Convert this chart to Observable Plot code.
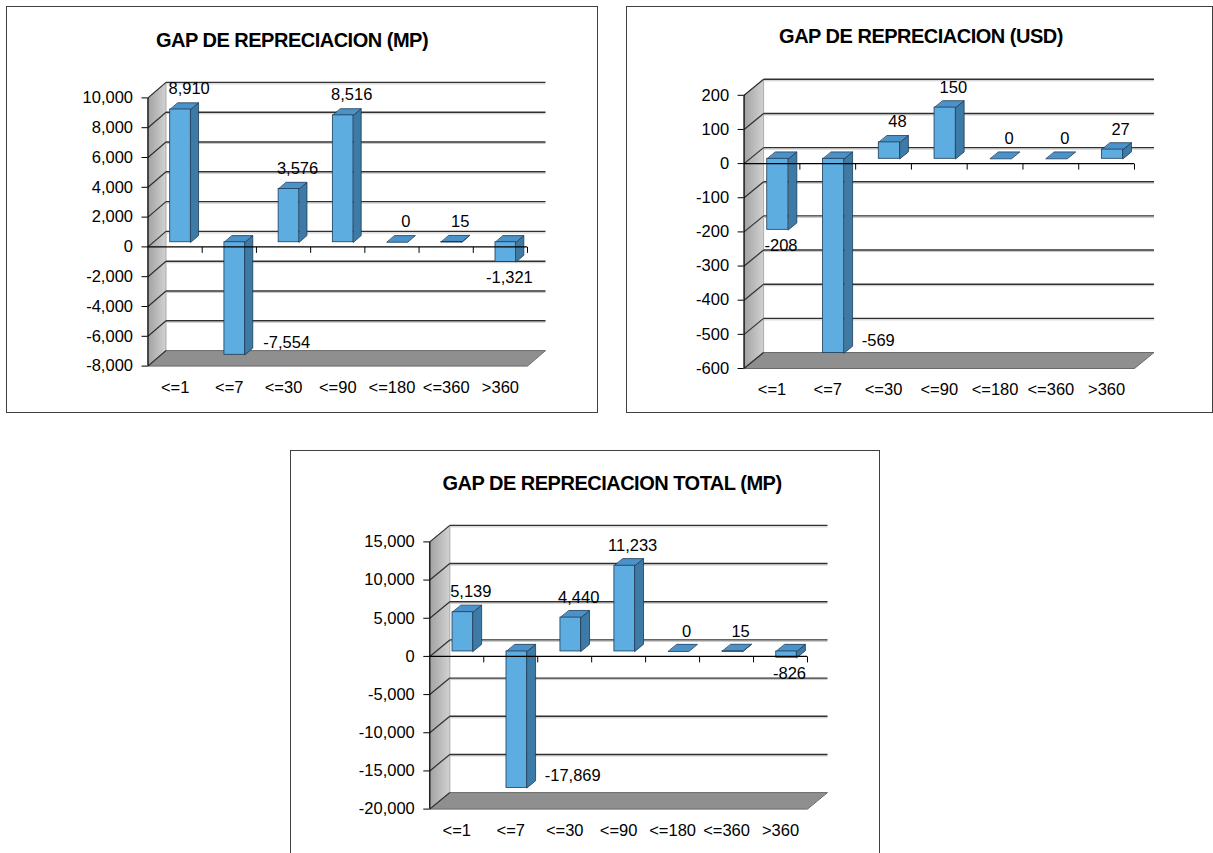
<!DOCTYPE html>
<html><head><meta charset="utf-8">
<script src="https://cdn.jsdelivr.net/npm/d3@7"></script>
<script src="https://cdn.jsdelivr.net/npm/@observablehq/plot@0.6"></script>
<style>
html,body{margin:0;padding:0;background:#fff;overflow:hidden}
#page{position:relative;width:1213px;height:853px;overflow:hidden;font-family:"Liberation Sans",Arial,sans-serif}
.box{position:absolute;border:1px solid #404040;box-sizing:border-box;background:#fff}
.title{position:absolute;font-weight:bold;font-size:20px;letter-spacing:-0.5px;white-space:nowrap;transform:translate(-50%,-50%);color:#000}
.chart{position:absolute}
</style></head><body><div id="page"></div><script>
// ---- data ----
const categories = ["<=1", "<=7", "<=30", "<=90", "<=180", "<=360", ">360"];
const gapMP = [8910, -7554, 3576, 8516, 0, 15, -1321];
const gapUSD = [-208, -569, 48, 150, 0, 0, 27];
const gapTotal = [5139, -17869, 4440, 11233, 0, 15, -826];
const ticksMP = [-8000, -6000, -4000, -2000, 0, 2000, 4000, 6000, 8000, 10000];
const ticksUSD = [-600, -500, -400, -300, -200, -100, 0, 100, 200];
const ticksTotal = [-20000, -15000, -10000, -5000, 0, 5000, 10000, 15000];
const titles = ["GAP DE REPRECIACION (MP)", "GAP DE REPRECIACION (USD)", "GAP DE REPRECIACION TOTAL (MP)"];

// ---- layout ----
const layouts = [
  {box:[6,6,592,407], title:[292,40], ox:7, oy:60, w:590, h:352, x0:147.5, x1:527, yTop:97.4, yBot:365.6, D:[18,-15.5], values:gapMP, ticks:ticksMP},
  {box:[626,6,587,407], title:[921,36], ox:627, oy:60, w:584, h:352, x0:743.6, x1:1134, yTop:94.8, yBot:368, D:[19.5,-16], values:gapUSD, ticks:ticksUSD},
  {box:[290,450,590,420], title:[612,483], ox:291, oy:500, w:587, h:352, x0:429.3, x1:807, yTop:541.4, yBot:808.6, D:[20,-16.5], values:gapTotal, ticks:ticksTotal}
];

const fmt = v => v.toLocaleString("en-US");
const FONT = '"Liberation Sans", Arial, sans-serif';
const page = document.getElementById("page");

function drawChart(cfg, n) {
  const box = document.createElement("div");
  box.className = "box";
  Object.assign(box.style, {left: cfg.box[0]+"px", top: cfg.box[1]+"px", width: cfg.box[2]+"px", height: cfg.box[3]+"px"});
  page.appendChild(box);
  const t = document.createElement("div");
  t.className = "title";
  t.textContent = titles[n];
  Object.assign(t.style, {left: cfg.title[0]+"px", top: cfg.title[1]+"px"});
  page.appendChild(t);

  const {ox, oy, w, h, x0, x1, yTop, yBot, D, values, ticks} = cfg;
  const ymin = ticks[0], ymax = ticks[ticks.length-1];
  const kx = (x1 - x0) / 7, ky = (yBot - yTop) / (ymax - ymin);
  const ux = p => p / kx, uy = p => -p / ky;
  const Dx = ux(D[0]), Dy = uy(D[1]);
  const F = [ux(D[0]*0.3), uy(D[1]*0.3)], B = [ux(D[0]*0.73), uy(D[1]*0.73)];
  const hw = 0.19;
  const pts = (id, arr) => arr.map(([x, y]) => ({id, x, y}));
  const wall = pts("wall", [[0,ymax],[Dx,ymax+Dy],[Dx,ymin+Dy],[0,ymin]]);
  const floor = pts("floor", [[0,ymin],[7,ymin],[7+Dx,ymin+Dy],[Dx,ymin+Dy]]);
  const tops = [], sides = [], fronts = [];
  values.forEach((v, i) => {
    const c = i + 0.5, lo = Math.min(v, 0), hi = Math.max(v, 0);
    const xl = c - hw, xr = c + hw;
    fronts.push({x1: xl+F[0], x2: xr+F[0], y1: lo+F[1], y2: hi+F[1]});
    tops.push(...pts(i, [[xl+F[0],hi+F[1]],[xr+F[0],hi+F[1]],[xr+B[0],hi+B[1]],[xl+B[0],hi+B[1]]]));
    if (hi > lo) sides.push(...pts(i, [[xr+F[0],hi+F[1]],[xr+B[0],hi+B[1]],[xr+B[0],lo+B[1]],[xr+F[0],lo+F[1]]]));
  });
  const labelsMid = [], labelsStart = [];
  values.forEach((v, i) => {
    const c = i + 0.5;
    const vy = yBot - (v - ymin) * ky;
    if (v >= 0) labelsMid.push({x: c+ux(14), y: v+uy(-25), text: fmt(v)});
    else if (yBot - vy < 25) labelsStart.push({x: c+ux(34), y: v+uy(-17), text: fmt(v)});
    else labelsMid.push({x: c+ux(9), y: v+uy(11), text: fmt(v)});
  });
  const edge = "#1d3b58";
  const svg = Plot.plot({
    width: w, height: h,
    marginLeft: x0 - ox, marginRight: w - (x1 - ox),
    marginTop: yTop - oy, marginBottom: h - (yBot - oy),
    x: {domain: [0, 7]},
    y: {domain: [ymin, ymax]},
    style: {background: "transparent", fontFamily: FONT, fontSize: "16.5px", color: "#000", overflow: "visible"},
    marks: [
      Plot.line(wall, {x: "x", y: "y", z: "id", curve: "linear-closed", fill: `url(#wallg${n})`, stroke: "#9a9a9a", strokeWidth: 0.8}),
      Plot.line(floor, {x: "x", y: "y", z: "id", curve: "linear-closed", fill: "#8f8f8f", stroke: "#6a6a6a", strokeWidth: 1}),
      Plot.link(ticks.slice(1), {x1: () => Dx, x2: () => 7 + Dx, y1: d => d + Dy, y2: d => d + Dy, stroke: "#c8c8c8", strokeWidth: 1, dy: 1.5}),
      Plot.link(ticks.slice(1), {x1: () => Dx, x2: () => 7 + Dx, y1: d => d + Dy, y2: d => d + Dy, stroke: "#303030", strokeWidth: 1.4}),
      Plot.link(ticks, {x1: () => 0, x2: () => Dx, y1: d => d, y2: d => d + Dy, stroke: "#303030", strokeWidth: 1.2}),
      Plot.line(sides, {x: "x", y: "y", z: "id", curve: "linear-closed", fill: "#3d7aa6", stroke: edge, strokeWidth: 0.8}),
      Plot.line(tops, {x: "x", y: "y", z: "id", curve: "linear-closed", fill: "#4b92c8", stroke: edge, strokeWidth: 0.8}),
      Plot.rect(fronts, {x1: "x1", x2: "x2", y1: "y1", y2: "y2", fill: "#5dade0", stroke: edge, strokeWidth: 0.8}),
      Plot.ruleX([0], {y1: ymin, y2: ymax, stroke: "#000", strokeWidth: 1.2}),
      Plot.ruleY([0], {x1: 0, x2: 7, stroke: "#000", strokeWidth: 1.3}),
      Plot.link(d3.range(1, 8), {x1: d => d, x2: d => d, y1: () => 0, y2: () => uy(6), stroke: "#000", strokeWidth: 1}),
      Plot.axisY({ticks, tickFormat: fmt, tickSize: 6, tickPadding: 9, label: null, fontSize: 16.5}),
      Plot.axisX({ticks: d3.range(7).map(i => i + 0.5), tickFormat: d => categories[Math.floor(d)], tickSize: 0, tickPadding: 15, label: null, fontSize: 16.5}),
      Plot.text(labelsMid, {x: "x", y: "y", text: "text", textAnchor: "middle", lineAnchor: "middle", fill: "#000", fontSize: 16.5}),
      Plot.text(labelsStart, {x: "x", y: "y", text: "text", textAnchor: "start", lineAnchor: "middle", fill: "#000", fontSize: 16.5})
    ]
  });
  const defs = d3.select(svg).insert("defs", ":first-child");
  const g = defs.append("linearGradient").attr("id", `wallg${n}`).attr("x1", 0).attr("x2", 1).attr("y1", 0).attr("y2", 0);
  g.append("stop").attr("offset", "0%").attr("stop-color", "#a2a2a2");
  g.append("stop").attr("offset", "100%").attr("stop-color", "#d2d2d2");
  const holder = document.createElement("div");
  holder.className = "chart";
  Object.assign(holder.style, {left: ox+"px", top: oy+"px"});
  holder.appendChild(svg);
  page.appendChild(holder);
}
layouts.forEach(drawChart);
</script></body></html>
